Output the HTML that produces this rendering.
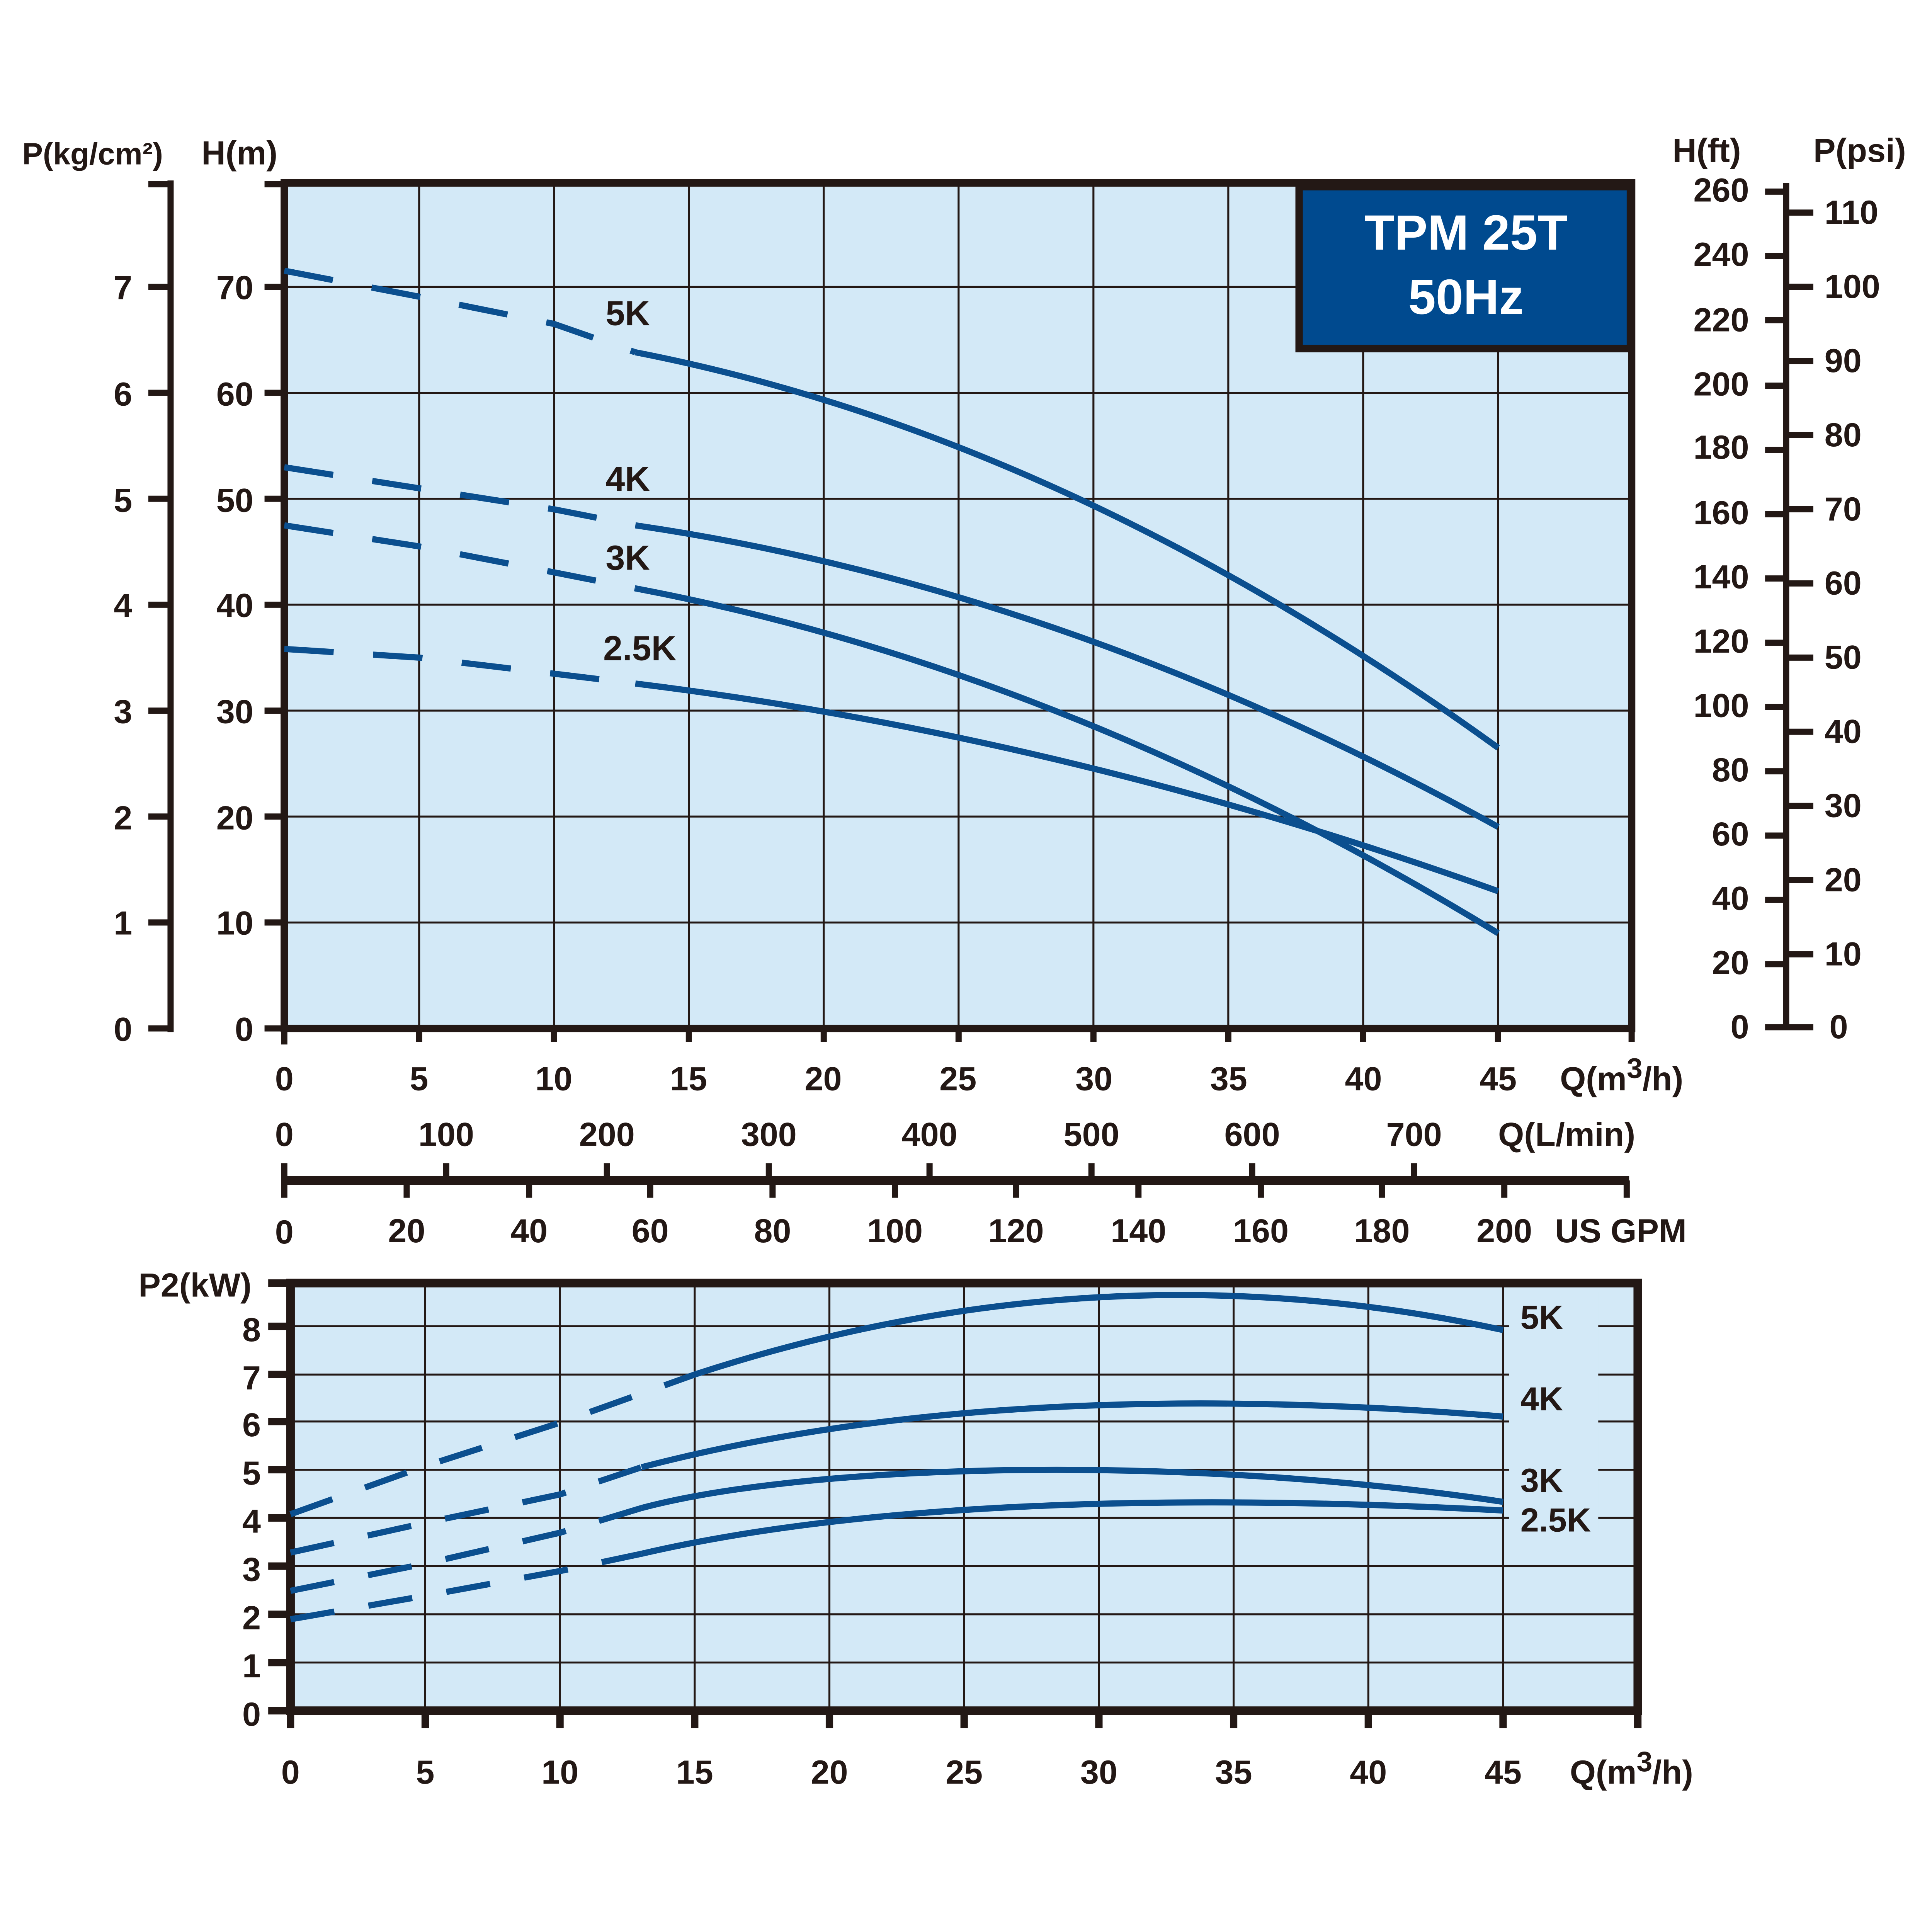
<!DOCTYPE html>
<html><head><meta charset="utf-8"><style>html,body{margin:0;padding:0;background:#fff;overflow:hidden;width:100vw;height:100vh}svg{display:block;width:100vw;height:100vh}</style></head><body>
<svg xmlns="http://www.w3.org/2000/svg" viewBox="0 0 1563 1563" preserveAspectRatio="none">
<g font-family="'Liberation Sans Narrow','Liberation Sans',sans-serif" fill="#231815" font-size="27" font-weight="bold">
<rect x="230" y="148" width="1090" height="684" fill="#d3e9f7"/>
<g stroke="#231815" stroke-width="1.6">
<line x1="339.1" y1="148" x2="339.1" y2="832"/><line x1="448.2" y1="148" x2="448.2" y2="832"/><line x1="557.3" y1="148" x2="557.3" y2="832"/><line x1="666.4" y1="148" x2="666.4" y2="832"/><line x1="775.5" y1="148" x2="775.5" y2="832"/><line x1="884.6" y1="148" x2="884.6" y2="832"/><line x1="993.7" y1="148" x2="993.7" y2="832"/><line x1="1102.8" y1="148" x2="1102.8" y2="832"/><line x1="1211.9" y1="148" x2="1211.9" y2="832"/>
<line x1="230" y1="746.3" x2="1320" y2="746.3"/><line x1="230" y1="660.6" x2="1320" y2="660.6"/><line x1="230" y1="574.9" x2="1320" y2="574.9"/><line x1="230" y1="489.2" x2="1320" y2="489.2"/><line x1="230" y1="403.5" x2="1320" y2="403.5"/><line x1="230" y1="317.8" x2="1320" y2="317.8"/><line x1="230" y1="232.1" x2="1320" y2="232.1"/>
</g>
<rect x="230" y="148" width="1090" height="684" fill="none" stroke="#231815" stroke-width="6"/>
<g stroke="#231815" stroke-width="5">
<line x1="230" y1="832" x2="230" y2="845"/><line x1="339.1" y1="832" x2="339.1" y2="843"/><line x1="448.2" y1="832" x2="448.2" y2="843"/><line x1="557.3" y1="832" x2="557.3" y2="843"/><line x1="666.4" y1="832" x2="666.4" y2="843"/><line x1="775.5" y1="832" x2="775.5" y2="843"/><line x1="884.6" y1="832" x2="884.6" y2="843"/><line x1="993.7" y1="832" x2="993.7" y2="843"/><line x1="1102.8" y1="832" x2="1102.8" y2="843"/><line x1="1211.9" y1="832" x2="1211.9" y2="843"/><line x1="1320" y1="832" x2="1320" y2="843"/>
</g>
<g stroke="#231815" stroke-width="5">
<line x1="230" y1="148" x2="230" y2="835"/>
<line x1="138" y1="146" x2="138" y2="835"/>
<line x1="120" y1="149" x2="140" y2="149"/>
</g>
<g stroke="#231815" stroke-width="5">
<line x1="214" y1="149" x2="230" y2="149"/><line x1="214" y1="232.1" x2="230" y2="232.1"/><line x1="214" y1="317.8" x2="230" y2="317.8"/><line x1="214" y1="403.5" x2="230" y2="403.5"/><line x1="214" y1="489.2" x2="230" y2="489.2"/><line x1="214" y1="574.9" x2="230" y2="574.9"/><line x1="214" y1="660.6" x2="230" y2="660.6"/><line x1="214" y1="746.3" x2="230" y2="746.3"/><line x1="214" y1="832" x2="230" y2="832"/>
<line x1="120" y1="232.1" x2="138" y2="232.1"/><line x1="120" y1="317.8" x2="138" y2="317.8"/><line x1="120" y1="403.5" x2="138" y2="403.5"/><line x1="120" y1="489.2" x2="138" y2="489.2"/><line x1="120" y1="574.9" x2="138" y2="574.9"/><line x1="120" y1="660.6" x2="138" y2="660.6"/><line x1="120" y1="746.3" x2="138" y2="746.3"/><line x1="120" y1="832" x2="138" y2="832"/>
</g>
<g text-anchor="end">
<text x="205" y="242">70</text><text x="205" y="328">60</text><text x="205" y="414">50</text><text x="205" y="499">40</text><text x="205" y="585">30</text><text x="205" y="671">20</text><text x="205" y="756">10</text><text x="205" y="842">0</text>
<text x="107" y="242">7</text><text x="107" y="328">6</text><text x="107" y="414">5</text><text x="107" y="499">4</text><text x="107" y="585">3</text><text x="107" y="671">2</text><text x="107" y="756">1</text><text x="107" y="842">0</text>
</g>
<text x="18" y="133" font-size="25">P(kg/cm²)</text><text x="163" y="133">H(m)</text>
<g stroke="#231815" stroke-width="5">
<line x1="1445" y1="148" x2="1445" y2="833"/>
<line x1="1428" y1="155" x2="1445" y2="155"/><line x1="1428" y1="207" x2="1445" y2="207"/><line x1="1428" y1="259" x2="1445" y2="259"/><line x1="1428" y1="312" x2="1445" y2="312"/><line x1="1428" y1="364" x2="1445" y2="364"/><line x1="1428" y1="416" x2="1445" y2="416"/><line x1="1428" y1="468" x2="1445" y2="468"/><line x1="1428" y1="520" x2="1445" y2="520"/><line x1="1428" y1="572" x2="1445" y2="572"/><line x1="1428" y1="624" x2="1445" y2="624"/><line x1="1428" y1="676" x2="1445" y2="676"/><line x1="1428" y1="728" x2="1445" y2="728"/><line x1="1428" y1="780" x2="1445" y2="780"/><line x1="1428" y1="831" x2="1445" y2="831"/>
<line x1="1445" y1="172" x2="1467" y2="172"/><line x1="1445" y1="232" x2="1467" y2="232"/><line x1="1445" y1="292" x2="1467" y2="292"/><line x1="1445" y1="352" x2="1467" y2="352"/><line x1="1445" y1="412" x2="1467" y2="412"/><line x1="1445" y1="472" x2="1467" y2="472"/><line x1="1445" y1="532" x2="1467" y2="532"/><line x1="1445" y1="592" x2="1467" y2="592"/><line x1="1445" y1="652" x2="1467" y2="652"/><line x1="1445" y1="712" x2="1467" y2="712"/><line x1="1445" y1="772" x2="1467" y2="772"/><line x1="1445" y1="831" x2="1467" y2="831"/>
</g>
<g text-anchor="end">
<text x="1415" y="163">260</text><text x="1415" y="215">240</text><text x="1415" y="268">220</text><text x="1415" y="320">200</text><text x="1415" y="371">180</text><text x="1415" y="424">160</text><text x="1415" y="476">140</text><text x="1415" y="528">120</text><text x="1415" y="580">100</text><text x="1415" y="632">80</text><text x="1415" y="684">60</text><text x="1415" y="736">40</text><text x="1415" y="788">20</text><text x="1415" y="840">0</text>
</g>
<g>
<text x="1476" y="181">110</text><text x="1476" y="241">100</text><text x="1476" y="301">90</text><text x="1476" y="361">80</text><text x="1476" y="421">70</text><text x="1476" y="481">60</text><text x="1476" y="541">50</text><text x="1476" y="601">40</text><text x="1476" y="661">30</text><text x="1476" y="721">20</text><text x="1476" y="781">10</text><text x="1480" y="840">0</text>
</g>
<text x="1353" y="131">H(ft)</text><text x="1467" y="131">P(psi)</text>
<rect x="1051" y="151" width="268" height="131" fill="#004a8f" stroke="#231815" stroke-width="6"/>
<text x="1186" y="202" fill="#fff" font-family="'Liberation Sans',sans-serif" font-weight="bold" font-size="40" text-anchor="middle">TPM 25T</text>
<text x="1186" y="254" fill="#fff" font-family="'Liberation Sans',sans-serif" font-weight="bold" font-size="40" text-anchor="middle">50Hz</text>
<g fill="none" stroke="#0b4f8f" stroke-width="5" stroke-linejoin="round">
<g stroke-dasharray="40 32">
<polyline points="230,219 339,240 448,262 514,285"/>
<polyline points="230,378 339,395 448,412 514,425"/>
<polyline points="230,425 339,442 448,463 514,476"/>
<polyline points="230,525 339,532 448,545 514,553"/>
</g>
<path d="M514,285 Q863,353 1212,605"/>
<path d="M514,425 Q863,476 1212,669"/>
<path d="M514,476 Q863,542 1212,755"/>
<path d="M514,553 Q863,596 1212,721"/>
</g>
<g font-weight="bold" font-family="'Liberation Sans',sans-serif" font-size="28">
<text x="490" y="263">5K</text><text x="490" y="397">4K</text><text x="490" y="461">3K</text><text x="488" y="534">2.5K</text>
</g>
<g text-anchor="middle">
<text x="230" y="882">0</text><text x="339" y="882">5</text><text x="448" y="882">10</text><text x="557" y="882">15</text><text x="666" y="882">20</text><text x="775" y="882">25</text><text x="885" y="882">30</text><text x="994" y="882">35</text><text x="1103" y="882">40</text><text x="1212" y="882">45</text>
<text x="230" y="927">0</text><text x="361" y="927">100</text><text x="491" y="927">200</text><text x="622" y="927">300</text><text x="752" y="927">400</text><text x="883" y="927">500</text><text x="1013" y="927">600</text><text x="1144" y="927">700</text>
<text x="230" y="1006">0</text><text x="329" y="1005">20</text><text x="428" y="1005">40</text><text x="526" y="1005">60</text><text x="625" y="1005">80</text><text x="724" y="1005">100</text><text x="822" y="1005">120</text><text x="921" y="1005">140</text><text x="1020" y="1005">160</text><text x="1118" y="1005">180</text><text x="1217" y="1005">200</text>
</g>
<text x="1262" y="882">Q(m<tspan dy="-10" font-size="23">3</tspan><tspan dy="10">/h)</tspan></text>
<text x="1212" y="927">Q(L/min)</text>
<text x="1258" y="1005">US GPM</text>
<g stroke="#231815" stroke-width="5">
<line x1="228" y1="955" x2="1318" y2="955" stroke-width="7"/>
<line x1="230" y1="941" x2="230" y2="969"/>
<line x1="361" y1="941" x2="361" y2="955"/><line x1="491" y1="941" x2="491" y2="955"/><line x1="622" y1="941" x2="622" y2="955"/><line x1="752" y1="941" x2="752" y2="955"/><line x1="883" y1="941" x2="883" y2="955"/><line x1="1013" y1="941" x2="1013" y2="955"/><line x1="1144" y1="941" x2="1144" y2="955"/>
<line x1="329" y1="955" x2="329" y2="969"/><line x1="428" y1="955" x2="428" y2="969"/><line x1="526" y1="955" x2="526" y2="969"/><line x1="625" y1="955" x2="625" y2="969"/><line x1="724" y1="955" x2="724" y2="969"/><line x1="822" y1="955" x2="822" y2="969"/><line x1="921" y1="955" x2="921" y2="969"/><line x1="1020" y1="955" x2="1020" y2="969"/><line x1="1118" y1="955" x2="1118" y2="969"/><line x1="1217" y1="955" x2="1217" y2="969"/><line x1="1316" y1="955" x2="1316" y2="969"/>
</g>
<g font-family="'Liberation Sans',sans-serif" font-weight="bold" font-size="27">
<rect x="235" y="1038" width="1090" height="346" fill="#d3e9f7"/>
<g stroke="#231815" stroke-width="1.6">
<line x1="344" y1="1038" x2="344" y2="1384"/><line x1="453" y1="1038" x2="453" y2="1384"/><line x1="562" y1="1038" x2="562" y2="1384"/><line x1="671" y1="1038" x2="671" y2="1384"/><line x1="780" y1="1038" x2="780" y2="1384"/><line x1="889" y1="1038" x2="889" y2="1384"/><line x1="998" y1="1038" x2="998" y2="1384"/><line x1="1107" y1="1038" x2="1107" y2="1384"/><line x1="1216" y1="1038" x2="1216" y2="1384"/>
<line x1="235" y1="1345" x2="1325" y2="1345"/><line x1="235" y1="1306" x2="1325" y2="1306"/><line x1="235" y1="1267" x2="1325" y2="1267"/><line x1="235" y1="1228" x2="1325" y2="1228"/><line x1="235" y1="1189" x2="1325" y2="1189"/><line x1="235" y1="1150" x2="1325" y2="1150"/><line x1="235" y1="1112" x2="1325" y2="1112"/><line x1="235" y1="1073" x2="1325" y2="1073"/>
</g>
<rect x="1221" y="1045" width="72" height="195" fill="#d3e9f7"/>
<rect x="235" y="1038" width="1090" height="346" fill="none" stroke="#231815" stroke-width="7"/>
<g stroke="#231815" stroke-width="6">
<line x1="217" y1="1384" x2="235" y2="1384"/><line x1="217" y1="1345" x2="235" y2="1345"/><line x1="217" y1="1306" x2="235" y2="1306"/><line x1="217" y1="1267" x2="235" y2="1267"/><line x1="217" y1="1228" x2="235" y2="1228"/><line x1="217" y1="1189" x2="235" y2="1189"/><line x1="217" y1="1150" x2="235" y2="1150"/><line x1="217" y1="1112" x2="235" y2="1112"/><line x1="217" y1="1073" x2="235" y2="1073"/><line x1="217" y1="1038" x2="235" y2="1038"/>
<line x1="235" y1="1384" x2="235" y2="1398"/><line x1="344" y1="1384" x2="344" y2="1398"/><line x1="453" y1="1384" x2="453" y2="1398"/><line x1="562" y1="1384" x2="562" y2="1398"/><line x1="671" y1="1384" x2="671" y2="1398"/><line x1="780" y1="1384" x2="780" y2="1398"/><line x1="889" y1="1384" x2="889" y2="1398"/><line x1="998" y1="1384" x2="998" y2="1398"/><line x1="1107" y1="1384" x2="1107" y2="1398"/><line x1="1216" y1="1384" x2="1216" y2="1398"/><line x1="1325" y1="1384" x2="1325" y2="1398"/>
</g>
<g text-anchor="end">
<text x="211" y="1396">0</text><text x="211" y="1357">1</text><text x="211" y="1318">2</text><text x="211" y="1279">3</text><text x="211" y="1240">4</text><text x="211" y="1201">5</text><text x="211" y="1162">6</text><text x="211" y="1124">7</text><text x="211" y="1085">8</text>
</g>
<text x="112" y="1049">P2(kW)</text>
<g text-anchor="middle">
<text x="235" y="1443">0</text><text x="344" y="1443">5</text><text x="453" y="1443">10</text><text x="562" y="1443">15</text><text x="671" y="1443">20</text><text x="780" y="1443">25</text><text x="889" y="1443">30</text><text x="998" y="1443">35</text><text x="1107" y="1443">40</text><text x="1216" y="1443">45</text>
</g>
<text x="1270" y="1443" font-family="'Liberation Sans Narrow','Liberation Sans',sans-serif" font-size="27">Q(m<tspan dy="-10" font-size="23">3</tspan><tspan dy="10">/h)</tspan></text>
<text x="1230" y="1075">5K</text><text x="1230" y="1141">4K</text><text x="1230" y="1207">3K</text><text x="1230" y="1239">2.5K</text>
</g>
<g fill="none" stroke="#0b4f8f" stroke-width="5" stroke-linejoin="round">
<g stroke-dasharray="36 28">
<polyline points="235,1225 344,1186 453,1151 562,1112"/>
<polyline points="235,1256 344,1232 453,1209 519,1187"/>
<polyline points="235,1287 344,1265 453,1240 519,1220"/>
<polyline points="235,1310 344,1291 453,1271 519,1257"/>
</g>
<path d="M562,1112 Q889,1005 1216,1076"/>
<path d="M519,1187 C680,1145 900,1120 1216,1146"/>
<path d="M519,1220 C650,1185 950,1175 1216,1215"/>
<path d="M519,1257 C700,1215 950,1208 1216,1222"/>
</g>
</g>
</svg>
</body></html>
